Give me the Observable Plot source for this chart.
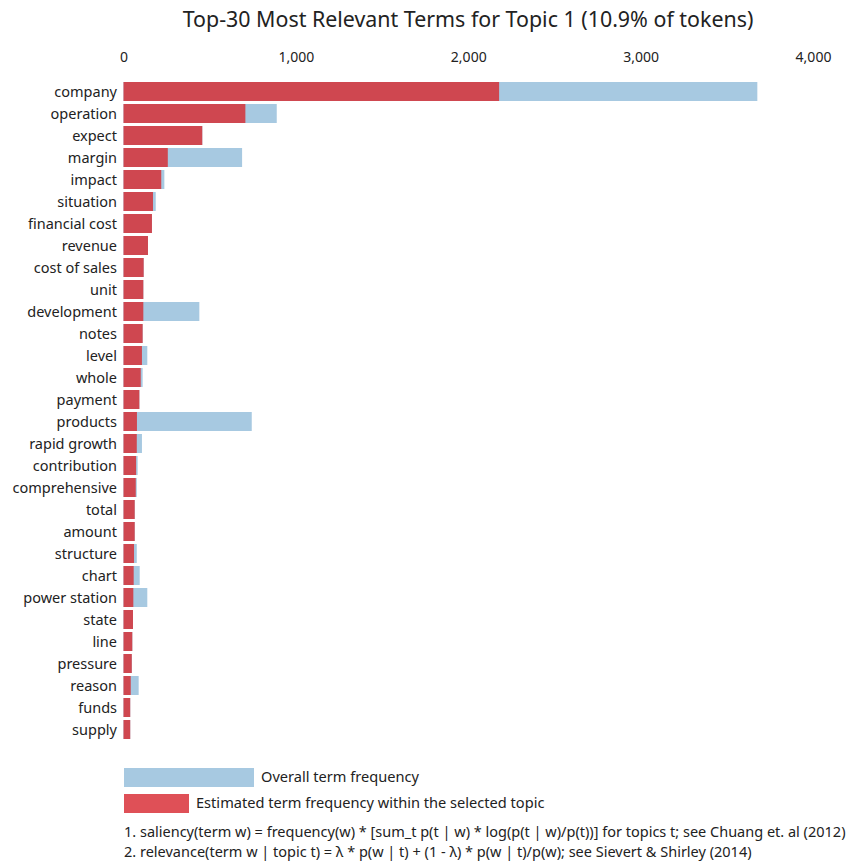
<!DOCTYPE html>
<html>
<head>
<meta charset="utf-8">
<script src="https://cdn.jsdelivr.net/npm/d3@7"></script>
<script src="https://cdn.jsdelivr.net/npm/@observablehq/plot@0.6"></script>
<style>
  body { margin: 0; background: #fff; font-family: "Noto Sans", "Open Sans", sans-serif; color: #222; }
  #wrap { position: relative; width: 854px; height: 861px; overflow: hidden; }
  #title { position: absolute; left: 82px; width: 772px; top: 4px; text-align: center; font-size: 21.4px; line-height: 30px; }
  #chart { position: absolute; left: 0; top: 40px; line-height: 0; }
  #chart svg { display: block; }
  .leg { position: absolute; font-size: 14.6px; line-height: 20px; white-space: nowrap; }
  .sw { position: absolute; }
  .note { position: absolute; left: 124px; font-size: 14.5px; line-height: 20px; white-space: nowrap; }
</style>
</head>
<body>
<div id="wrap">
  <div id="title">Top-30 Most Relevant Terms for Topic 1 (10.9% of tokens)</div>
  <div id="chart"></div>
  <div class="sw" style="left:124px;top:768px;width:130px;height:19px;background:#a7c9e1"></div>
  <div class="leg" style="left:261px;top:766px">Overall term frequency</div>
  <div class="sw" style="left:124px;top:794px;width:65px;height:19px;background:#df5057"></div>
  <div class="leg" style="left:196px;top:792px">Estimated term frequency within the selected topic</div>
  <div class="note" style="top:821px">1. saliency(term w) = frequency(w) * [sum_t p(t | w) * log(p(t | w)/p(t))] for topics t; see Chuang et. al (2012)</div>
  <div class="note" style="top:841px">2. relevance(term w | topic t) = λ * p(w | t) + (1 - λ) * p(w | t)/p(w); see Sievert &amp; Shirley (2014)</div>
</div>
<script>
const terms = ["company","operation","expect","margin","impact","situation","financial cost","revenue","cost of sales","unit","development","notes","level","whole","payment","products","rapid growth","contribution","comprehensive","total","amount","structure","chart","power station","state","line","pressure","reason","funds","supply"];
const overallFreq = [3677,889,457,688,237,187,165,142,117,115,440,111,138,111,92,744,107,82,77,65,65,77,94,138,55,51,48,88,39,39];
const topicFreq = [2179,707,457,257,219,171,165,142,117,115,115,111,107,100,92,78,77,73,71,65,65,61,59,57,55,51,48,42,39,39];
const xTicks = [0,1000,2000,3000,4000];

const data = terms.map((t, i) => ({term: t, overall: overallFreq[i], topic: topicFreq[i]}));

const chart = Plot.plot({
  width: 854,
  height: 710,
  marginLeft: 123.5,
  marginRight: 41,
  marginTop: 38,
  marginBottom: 8,
  style: {fontFamily: "Noto Sans, Open Sans, sans-serif", fontSize: "14.5px", color: "#222", background: "#fff"},
  x: {domain: [0, 4000], axis: null},
  y: {domain: terms, paddingInner: 0.15, paddingOuter: 0.075, axis: null},
  marks: [
    Plot.barX(data, {y: "term", x: "overall", fill: "#a7c9e1"}),
    Plot.barX(data, {y: "term", x: "topic", fill: "#cf4750"}),
    Plot.axisX({anchor: "top", ticks: xTicks, tickFormat: d3.format(","), tickSize: 0, tickPadding: 17, label: null, fontSize: 14}),
    Plot.axisY({anchor: "left", tickSize: 0, tickPadding: 7, label: null, fontSize: 14.5})
  ]
});
document.getElementById("chart").appendChild(chart);
</script>
</body>
</html>
